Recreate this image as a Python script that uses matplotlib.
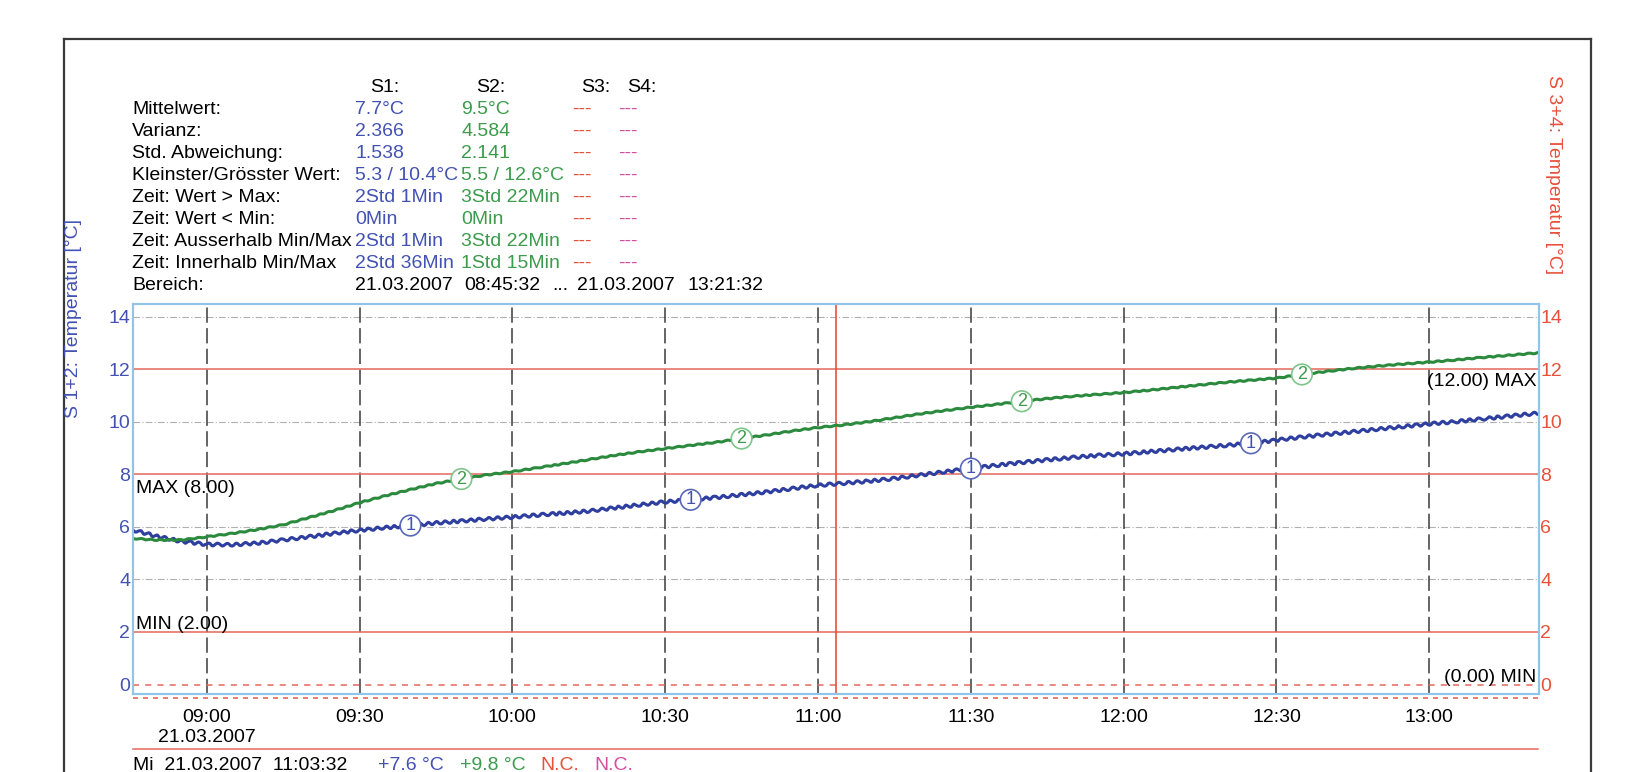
import numpy as np
import pandas as pd
import matplotlib
matplotlib.use('Agg')
import matplotlib.pyplot as plt
import matplotlib.dates as mdates
from matplotlib.lines import Line2D
from matplotlib.ticker import FuncFormatter

plt.rcParams['font.family'] = ['Liberation Sans', 'DejaVu Sans']

# logger readings, 21.03.2007
day = '2007-03-21 '
times = ['08:45:32',
         '08:50', '08:55', '09:00', '09:05', '09:10', '09:15', '09:20', '09:25', '09:30', '09:35',
         '09:40', '09:45', '09:50', '09:55', '10:00', '10:05', '10:10', '10:15', '10:20', '10:25',
         '10:30', '10:35', '10:40', '10:45', '10:50', '10:55', '11:00', '11:05', '11:10', '11:15',
         '11:20', '11:25', '11:30', '11:35', '11:40', '11:45', '11:50', '11:55', '12:00', '12:05',
         '12:10', '12:15', '12:20', '12:25', '12:30', '12:35', '12:40', '12:45', '12:50', '12:55',
         '13:00', '13:05', '13:10', '13:15', '13:20',
         '13:21:32']
s1_temp = [5.88,
           5.65, 5.45, 5.33, 5.32, 5.38, 5.50, 5.62, 5.75, 5.87, 5.97,
           6.05, 6.15, 6.22, 6.30, 6.37, 6.45, 6.52, 6.60, 6.72, 6.84,
           6.95, 7.03, 7.12, 7.22, 7.33, 7.46, 7.58, 7.66, 7.74, 7.84,
           7.97, 8.10, 8.22, 8.34, 8.45, 8.55, 8.64, 8.72, 8.78, 8.86,
           8.94, 9.02, 9.10, 9.18, 9.30, 9.42, 9.52, 9.62, 9.72, 9.82,
           9.92, 10.00, 10.10, 10.20, 10.30,
           10.32]
s2_temp = [5.56,
           5.50, 5.50, 5.62, 5.75, 5.90, 6.08, 6.35, 6.62, 6.92, 7.18,
           7.42, 7.65, 7.82, 7.98, 8.10, 8.25, 8.40, 8.56, 8.72, 8.86,
           8.98, 9.10, 9.22, 9.36, 9.50, 9.65, 9.78, 9.88, 10.00, 10.15,
           10.30, 10.43, 10.55, 10.66, 10.78, 10.88, 10.97, 11.04, 11.11, 11.20,
           11.30, 11.40, 11.50, 11.58, 11.66, 11.80, 11.92, 12.03, 12.12, 12.20,
           12.27, 12.35, 12.44, 12.52, 12.60,
           12.62]

# numbered channel tags along the curves
s1_tag_times = ['09:40', '10:35', '11:30', '12:25']
s2_tag_times = ['09:50', '10:45', '11:40', '12:35']

# alarm limits
s12_max, s12_min = 8.0, 2.0
s34_max, s34_min = 12.0, 0.0

range_start = '08:45:32'
range_end = '13:21:32'
cursor_time = '11:03:32'
cursor_s1, cursor_s2 = 7.6, 9.8

stat_labels = ['Mittelwert:', 'Varianz:', 'Std. Abweichung:', 'Kleinster/Grösster Wert:',
               'Zeit: Wert > Max:', 'Zeit: Wert < Min:', 'Zeit: Ausserhalb Min/Max',
               'Zeit: Innerhalb Min/Max']
s1_stats = ['7.7°C', '2.366', '1.538', '5.3 / 10.4°C', '2Std 1Min', '0Min', '2Std 1Min', '2Std 36Min']
s2_stats = ['9.5°C', '4.584', '2.141', '5.5 / 12.6°C', '3Std 22Min', '0Min', '3Std 22Min', '1Std 15Min']
channel_heads = ['S1:', 'S2:', 'S3:', 'S4:']

BLUE = '#2f3fa0'
BLUE_TXT = '#4352b2'
GREEN = '#2b8a3d'
GREEN_TXT = '#3c9b4c'
RED = '#e8503a'
MAGENTA = '#d2509e'
SPINE = '#8fc6e8'
LIMIT = '#e4675a'

W, H = 1626, 772
fx = lambda x: x / W
fy = lambda y: 1 - y / H

t = pd.to_datetime([day + s for s in times], format='ISO8601')
t0 = pd.Timestamp(day + range_start)
t1 = pd.Timestamp(day + range_end)
tc = pd.Timestamp(day + cursor_time)

fig = plt.figure(figsize=(16.26, 7.72), dpi=100)
ax = fig.add_axes([fx(133), fy(694), fx(1539) - fx(133), fy(303.5) - fy(694)])
ax.set_xlim(t0, t1)
ax.set_ylim(-0.36, 14.5)

# horizontal grid and limit lines
for v in [4, 6, 10, 14]:
    ax.axhline(v, color='#b0b0b0', lw=0.8, ls=(0, (6, 2, 1, 2)), zorder=1)
for v in [s12_max, s12_min, s34_max]:
    ax.axhline(v, color=LIMIT, lw=1.1, zorder=1.5)
ax.axhline(s34_min, color=LIMIT, lw=1.1, ls=(0, (4, 4)), zorder=1.5)

# half-hour markers
ax.xaxis.set_major_locator(mdates.MinuteLocator(byminute=[0, 30]))
for tk in ax.get_xticks():
    ax.axvline(tk, color='#3a3a3a', lw=1.1, ls=(0, (10, 3.5)), zorder=1)

def fmt_time(x, pos):
    d = mdates.num2date(x)
    lab = d.strftime('%H:%M')
    if pos == 0:
        lab += '\n' + d.strftime('%d.%m.%Y')
    return lab

ax.xaxis.set_major_formatter(FuncFormatter(fmt_time))
ax.tick_params(axis='x', length=0, pad=11, labelsize=14)

ax.set_yticks(np.arange(0, 15, 2))
ax.tick_params(axis='y', length=0, pad=2, labelsize=14, labelcolor=BLUE_TXT)

ax2 = ax.twinx()
ax2.set_ylim(ax.get_ylim())
ax2.set_yticks(np.arange(0, 15, 2))
ax2.tick_params(axis='y', length=0, pad=1, labelsize=14, labelcolor=RED)

for a in (ax, ax2):
    for sp in a.spines.values():
        sp.set_color(SPINE)
        sp.set_linewidth(1.5)

# cursor
ax.axvline(tc, color=RED, lw=1.2, zorder=2)

# curves
l1, = ax.plot(t, s1_temp, color=BLUE, lw=2.2, zorder=3)
l1.set_sketch_params(scale=1.4, length=9, randomness=1.5)
l2, = ax.plot(t, s2_temp, color=GREEN, lw=2.2, zorder=3)
l2.set_sketch_params(scale=0.5, length=10, randomness=1.5)

def tag(series, tag_times, num, ec, tc_):
    for s in tag_times:
        i = times.index(s)
        ax.text(t[i], series[i], num, fontsize=13, color=tc_, ha='center', va='center',
                zorder=5, bbox=dict(boxstyle='circle,pad=0.1', fc='white', ec=ec, lw=1.2))

tag(s1_temp, s1_tag_times, '1', '#5a68b8', BLUE_TXT)
tag(s2_temp, s2_tag_times, '2', '#7fc48a', GREEN_TXT)

# limit captions
ax.annotate(f'MAX ({s12_max:.2f})', xy=(t0, s12_max), xytext=(2, -4), textcoords='offset points',
            ha='left', va='top', fontsize=14)
ax.annotate(f'MIN ({s12_min:.2f})', xy=(t0, s12_min), xytext=(2, 2), textcoords='offset points',
            ha='left', va='baseline', fontsize=14)
ax.annotate(f'({s34_max:.2f}) MAX', xy=(t1, s34_max), xytext=(-2, -3), textcoords='offset points',
            ha='right', va='top', fontsize=14)
ax.annotate(f'({s34_min:.2f}) MIN', xy=(t1, s34_min), xytext=(-2, 2), textcoords='offset points',
            ha='right', va='baseline', fontsize=14)

# axis titles
fig.text(fx(73), fy(318), 'S 1+2: Temperatur [°C]', rotation=90, color=BLUE_TXT,
         fontsize=14, ha='center', va='center')
fig.text(fx(1553), fy(175), 'S 3+4: Temperatur [°C]', rotation=270, color=RED,
         fontsize=14, ha='center', va='center')

# statistics block
row_y = [107 + 22 * k for k in range(9)]
bl = lambda y: fy(y + 7)
head_x = [385, 491, 596, 642]
for hx, h in zip(head_x, channel_heads):
    fig.text(fx(hx), bl(85), h, fontsize=14, ha='center', va='baseline')
for k, lab in enumerate(stat_labels):
    y = bl(row_y[k])
    fig.text(fx(132), y, lab, fontsize=14, va='baseline')
    fig.text(fx(355), y, s1_stats[k], fontsize=14, va='baseline', color=BLUE_TXT)
    fig.text(fx(461), y, s2_stats[k], fontsize=14, va='baseline', color=GREEN_TXT)
    fig.text(fx(572), y, '---', fontsize=14, va='baseline', color=RED)
    fig.text(fx(618), y, '---', fontsize=14, va='baseline', color=MAGENTA)
yb = bl(row_y[8])
fig.text(fx(132), yb, 'Bereich:', fontsize=14, va='baseline')
fig.text(fx(355), yb, t0.strftime('%d.%m.%Y'), fontsize=14, va='baseline')
fig.text(fx(464), yb, t0.strftime('%H:%M:%S'), fontsize=14, va='baseline')
fig.text(fx(552), yb, '...', fontsize=14, va='baseline')
fig.text(fx(577), yb, t1.strftime('%d.%m.%Y'), fontsize=14, va='baseline')
fig.text(fx(687), yb, t1.strftime('%H:%M:%S'), fontsize=14, va='baseline')

# dashed limit below the plot and cursor read-out line
fig.add_artist(Line2D([fx(133), fx(1539)], [fy(698), fy(698)], color=LIMIT, lw=1.2,
                      ls=(0, (3, 3))))
fig.add_artist(Line2D([fx(133), fx(1538)], [fy(749), fy(749)], color=LIMIT, lw=1.1))

# cursor read-out
yc = fy(763 + 7)
fig.text(fx(133), yc, 'Mi  ' + tc.strftime('%d.%m.%Y  %H:%M:%S'), fontsize=14, va='baseline')
fig.text(fx(378), yc, f'+{cursor_s1:.1f} °C', fontsize=14, va='baseline', color=BLUE_TXT)
fig.text(fx(460), yc, f'+{cursor_s2:.1f} °C', fontsize=14, va='baseline', color=GREEN_TXT)
fig.text(fx(540), yc, 'N.C.', fontsize=14, va='baseline', color=RED)
fig.text(fx(594), yc, 'N.C.', fontsize=14, va='baseline', color=MAGENTA)

# outer frame
frame = dict(color='#3a3a3a', lw=1.6)
fig.add_artist(Line2D([fx(63.5), fx(63.5)], [fy(800), fy(39)], **frame))
fig.add_artist(Line2D([fx(63.5), fx(1590.5)], [fy(39), fy(39)], **frame))
fig.add_artist(Line2D([fx(1590.5), fx(1590.5)], [fy(39), fy(800)], **frame))

fig.savefig('out.png', dpi=100, facecolor='white')
